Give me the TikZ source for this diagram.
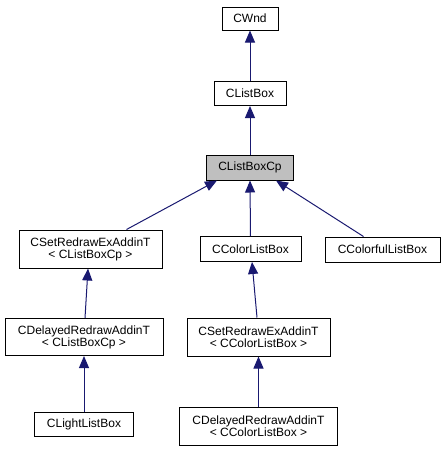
\documentclass[tikz,border=0pt]{standalone}
\usepackage{fontspec}
\setmainfont{Liberation Sans}
\usetikzlibrary{arrows.meta}
\definecolor{edgeblue}{RGB}{25,25,112}
\definecolor{boxgray}{RGB}{191,191,191}
\tikzset{
  cls/.style={draw=black, line width=1pt, inner sep=0pt, align=center,
    font=\fontsize{12}{12}\selectfont},
  inherit/.style={draw=edgeblue, line width=1pt,
    -{Triangle[length=12pt,width=10pt]}, fill=none},
}

\begin{document}
\begin{tikzpicture}[x=1pt,y=-1pt]
\useasboundingbox (0,0) rectangle (445,451);

\node[cls, minimum width=56pt, minimum height=23pt] (cwnd) at (250,18.5) {CWnd};
\node[cls, minimum width=72pt, minimum height=24pt] (clistbox) at (250,93.5) {CListBox};
\node[cls, fill=boxgray, minimum width=87pt, minimum height=25pt] (clistboxcp) at (250,167.5) {CListBoxCp};

\node[cls, minimum width=143pt, minimum height=38pt] (setlbc) at (90.5,249) {CSetRedrawExAddinT\\< CListBoxCp >};
\node[cls, minimum width=101pt, minimum height=25pt] (colorlb) at (250.5,249) {CColorListBox};
\node[cls, minimum width=115pt, minimum height=25pt] (colorful) at (382.5,249.5) {CColorfulListBox};

\node[cls, minimum width=158pt, minimum height=37pt] (delaylbc) at (84,337) {CDelayedRedrawAddinT\\< CListBoxCp >};
\node[cls, minimum width=143pt, minimum height=38pt] (setclb) at (258.5,337) {CSetRedrawExAddinT\\< CColorListBox >};

\node[cls, minimum width=99pt, minimum height=24pt] (light) at (84,424.5) {CLightListBox};
\node[cls, minimum width=158pt, minimum height=38pt] (delayclb) at (258.5,426) {CDelayedRedrawAddinT\\< CColorListBox >};

\draw[inherit] (clistbox.north) -- (cwnd.south);
\draw[inherit] (clistboxcp.north) -- (clistbox.south);

\draw[inherit] ([xshift=36pt]setlbc.north) -- ([xshift=11pt]clistboxcp.south west);
\draw[inherit] (colorlb.north) -- (clistboxcp.south);
\draw[inherit] ([xshift=-19pt]colorful.north) -- ([xshift=-18pt]clistboxcp.south east);

\draw[inherit] ([xshift=1pt]delaylbc.north) -- ([xshift=-2.5pt]setlbc.south);
\draw[inherit] (light.north) -- (delaylbc.south);

\draw[inherit] ([xshift=-1.5pt]setclb.north) -- ([xshift=1.5pt]colorlb.south);
\draw[inherit] (delayclb.north) -- (setclb.south);
\end{tikzpicture}
\end{document}
